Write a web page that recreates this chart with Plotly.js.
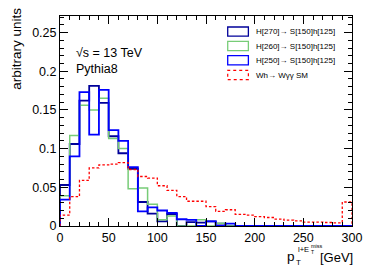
<!DOCTYPE html>
<html>
<head>
<meta charset="utf-8">
<script src="https://cdn.plot.ly/plotly-3.0.1.min.js"></script>
<style>html,body{margin:0;padding:0;background:#fff;}#chart{width:374px;height:269px;}</style>
</head>
<body>
<div id="chart"></div>
<script>
// bin edges (GeV), 10 GeV bins from 0 to 300
const binEdges = [0,10,20,30,40,50,60,70,80,90,100,110,120,130,140,150,160,170,180,190,200,210,220,230,240,250,260,270,280,290,300];

const seriesNames = ["H[270]\u2192 S[150]h[125]", "H[260]\u2192 S[150]h[125]", "H[250]\u2192 S[150]h[125]", "Wh\u2192 W\u03b3\u03b3 SM"];

const h270 = [0.053,0.106,0.162,0.181,0.159,0.116,0.094,0.074,0.031,0.016,0.006,0.0155,0.0,0.005,0.0044,0.006,0.003,0.0,0,0,0,0,0,0,0,0,0,0,0,0];
const h260 = [0.039,0.117,0.156,0.150,0.165,0.113,0.100,0.048,0.049,0.028,0.008,0.013,0.0,0.0,0.008,0.0,0.0035,0.0,0,0,0,0,0,0,0,0,0,0,0,0];
const h250 = [0.034,0.090,0.173,0.118,0.176,0.124,0.110,0.076,0.019,0.024,0.020,0.017,0.0087,0.008,0.0,0.006,0.0,0.003,0,0,0,0,0,0,0,0,0,0,0,0];
const whSM = [0.014,0.038,0.059,0.075,0.079,0.080,0.082,0.073,0.064,0.062,0.052,0.046,0.038,0.032,0.032,0.025,0.019,0.021,0.015,0.014,0.012,0.011,0.009,0.0075,0.0065,0.005,0.005,0.0045,0.004,0.031];

const xTickVals = [0,50,100,150,200,250,300];
const yTickVals = [0,0.05,0.1,0.15,0.2,0.25];

const colors = ["#000099", "#77cc77", "#0000ff", "#ff0000"];
const widths = [1.8, 1.5, 1.8, 1.3];
const dashes = ["solid", "solid", "solid", "2.5px,2px"];
const allSeries = [h270, h260, h250, whSM];

function stepTrace(vals, i) {
  const x = [binEdges[0]];
  const y = [0];
  for (let k = 0; k < vals.length; k++) { x.push(binEdges[k]); y.push(vals[k]); }
  x.push(binEdges[binEdges.length-1]); y.push(vals[vals.length-1]);
  x.push(binEdges[binEdges.length-1]); y.push(0);
  return {
    x: x, y: y, type: 'scatter', mode: 'lines', name: seriesNames[i],
    line: {shape: 'hv', color: colors[i], width: widths[i], dash: dashes[i]},
    hoverinfo: 'skip', showlegend: false
  };
}
const traces = allSeries.map((s, i) => stepTrace(s, i));

// pixel helpers for overlay placement
const L = 60, R = 352.5, T = 15.7, B = 225.7;
const px = v => (v - L) / (R - L);
const py = v => (B - v) / (B - T);

const FONT = "Liberation Sans, Arial, Helvetica, sans-serif";
const shapes = [];
const annotations = [];
const legY = [31.3, 45.7, 60.0, 74.7];
for (let i = 0; i < 4; i++) {
  shapes.push({type: 'rect', xref: 'paper', yref: 'paper',
    x0: px(228), x1: px(248.7), y0: py(legY[i] + 4.6), y1: py(legY[i] - 4.6),
    line: {color: colors[i], width: i === 3 ? 1.2 : 1.3, dash: i === 3 ? 'dot' : 'solid'},
    fillcolor: 'rgba(0,0,0,0)'});
  annotations.push({xref: 'paper', yref: 'paper', x: px(254), y: py(legY[i]),
    xanchor: 'left', yanchor: 'middle', showarrow: false, text: seriesNames[i],
    font: {family: FONT, size: 8, color: '#000'}});
}
annotations.push({xref: 'paper', yref: 'paper', x: px(74), y: py(52.7), xanchor: 'left', yanchor: 'middle',
  showarrow: false, text: "\u221as = 13 TeV", font: {family: FONT, size: 12.5, color: '#000'}});
annotations.push({xref: 'paper', yref: 'paper', x: px(74), y: py(69), xanchor: 'left', yanchor: 'middle',
  showarrow: false, text: "Pythia8", font: {family: FONT, size: 12.5, color: '#000'}});
// y title
annotations.push({xref: 'paper', yref: 'paper', x: px(17), y: py(48.5), xanchor: 'center', yanchor: 'middle',
  textangle: -90, showarrow: false, text: "arbitrary units", font: {family: FONT, size: 13.5, color: '#000'}});
// x title pieces
annotations.push({xref: 'paper', yref: 'paper', x: px(297), y: py(256.5), xanchor: 'right', yanchor: 'middle',
  showarrow: false, text: "p", font: {family: FONT, size: 13.5, color: '#000'}});
annotations.push({xref: 'paper', yref: 'paper', x: px(294.5), y: py(262.5), xanchor: 'left', yanchor: 'middle',
  showarrow: false, text: "T", font: {family: FONT, size: 8, color: '#000'}});
annotations.push({xref: 'paper', yref: 'paper', x: px(296), y: py(249), xanchor: 'left', yanchor: 'middle',
  showarrow: false, text: "l+E", font: {family: FONT, size: 7.5, color: '#000'}});
annotations.push({xref: 'paper', yref: 'paper', x: px(309), y: py(246), xanchor: 'left', yanchor: 'middle',
  showarrow: false, text: "miss", font: {family: FONT, size: 5.5, color: '#000'}});
annotations.push({xref: 'paper', yref: 'paper', x: px(309), y: py(251.5), xanchor: 'left', yanchor: 'middle',
  showarrow: false, text: "T", font: {family: FONT, size: 5, color: '#000'}});
annotations.push({xref: 'paper', yref: 'paper', x: px(355.5), y: py(257.5), xanchor: 'right', yanchor: 'middle',
  showarrow: false, text: "[GeV]", font: {family: FONT, size: 13, color: '#000'}});

const axisCommon = {
  showgrid: false, zeroline: false, showline: true, linecolor: '#000', linewidth: 1,
  mirror: 'allticks', ticks: 'inside', ticklen: 8, tickwidth: 1, tickcolor: '#000',
  tickfont: {family: FONT, size: 12.5, color: '#000'}
};

const layout = {
  width: 374, height: 269,
  margin: {l: L, r: 374 - R, t: T, b: 269 - B, pad: 0},
  paper_bgcolor: '#fff', plot_bgcolor: '#fff',
  showlegend: false,
  xaxis: Object.assign({}, axisCommon, {range: [0, 300], tickmode: 'array', tickvals: xTickVals,
    ticktext: xTickVals.map(String),
    minor: {dtick: 10, tick0: 0, ticks: 'inside', ticklen: 4, tickcolor: '#000', showgrid: false}}),
  yaxis: Object.assign({}, axisCommon, {range: [0, 0.2714], tickmode: 'array', tickvals: yTickVals,
    ticktext: yTickVals.map(String),
    minor: {dtick: 0.01, tick0: 0, ticks: 'inside', ticklen: 4, tickcolor: '#000', showgrid: false}}),
  shapes: shapes,
  annotations: annotations
};

Plotly.newPlot('chart', traces, layout, {staticPlot: true, displayModeBar: false});
</script>
</body>
</html>
